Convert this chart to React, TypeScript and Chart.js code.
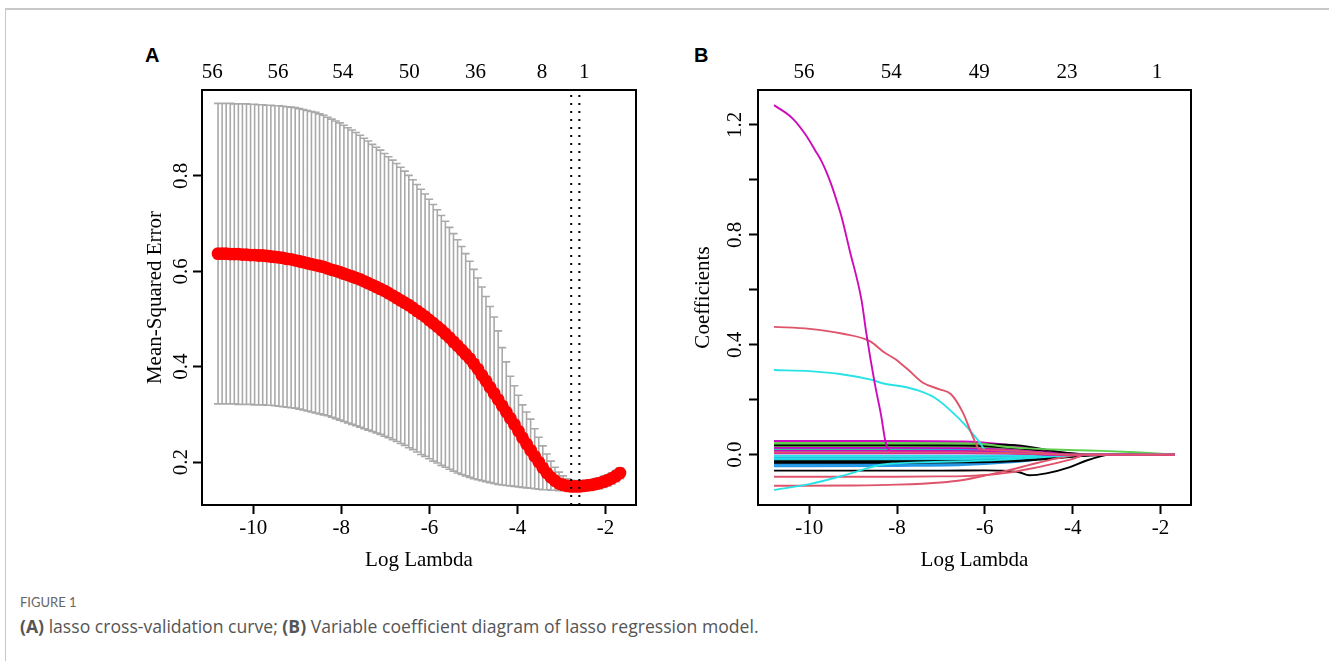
import React, { useEffect, useRef } from "react";
import { Chart, registerables } from "chart.js";

Chart.register(...registerables);

const SERIF = "'Liberation Serif', 'Times New Roman', Times, serif";
const FS = 21;

// ---------------- Panel A: lasso cross-validation curve ----------------
const logLambda = [
  -10.800, -10.708, -10.616, -10.523, -10.431, -10.339, -10.247, -10.155, -10.062, -9.970,
  -9.878, -9.786, -9.694, -9.601, -9.509, -9.417, -9.325, -9.233, -9.140, -9.048,
  -8.956, -8.864, -8.772, -8.679, -8.587, -8.495, -8.403, -8.311, -8.218, -8.126,
  -8.034, -7.942, -7.850, -7.757, -7.665, -7.573, -7.481, -7.389, -7.296, -7.204,
  -7.112, -7.020, -6.928, -6.835, -6.743, -6.651, -6.559, -6.467, -6.374, -6.282,
  -6.190, -6.098, -6.006, -5.913, -5.821, -5.729, -5.637, -5.545, -5.452, -5.360,
  -5.268, -5.176, -5.084, -4.991, -4.899, -4.807, -4.715, -4.623, -4.530, -4.438,
  -4.346, -4.254, -4.162, -4.069, -3.977, -3.885, -3.793, -3.701, -3.608, -3.516,
  -3.424, -3.332, -3.240, -3.147, -3.055, -2.963, -2.871, -2.779, -2.686, -2.594,
  -2.502, -2.410, -2.318, -2.225, -2.133, -2.041, -1.949, -1.857, -1.764, -1.672,
];
const cvm = [
  0.637, 0.637, 0.637, 0.636, 0.636, 0.636, 0.635, 0.635, 0.634, 0.634,
  0.633, 0.633, 0.632, 0.631, 0.630, 0.629, 0.628, 0.626, 0.625, 0.623,
  0.621, 0.619, 0.617, 0.615, 0.613, 0.611, 0.609, 0.606, 0.603, 0.601,
  0.598, 0.595, 0.592, 0.589, 0.586, 0.583, 0.579, 0.575, 0.571, 0.567,
  0.563, 0.559, 0.554, 0.549, 0.544, 0.539, 0.534, 0.529, 0.523, 0.517,
  0.511, 0.505, 0.498, 0.491, 0.484, 0.477, 0.469, 0.461, 0.452, 0.444,
  0.435, 0.426, 0.417, 0.406, 0.395, 0.382, 0.370, 0.357, 0.344, 0.331,
  0.318, 0.305, 0.292, 0.279, 0.265, 0.251, 0.238, 0.225, 0.212, 0.200,
  0.188, 0.177, 0.168, 0.161, 0.155, 0.152, 0.150, 0.149, 0.149, 0.149,
  0.150, 0.151, 0.152, 0.154, 0.156, 0.159, 0.162, 0.166, 0.171, 0.177,
];
const cvup = [
  0.952, 0.952, 0.952, 0.952, 0.951, 0.951, 0.951, 0.951, 0.950, 0.950,
  0.949, 0.949, 0.948, 0.948, 0.947, 0.947, 0.946, 0.945, 0.944, 0.943,
  0.941, 0.939, 0.937, 0.935, 0.933, 0.930, 0.927, 0.923, 0.919, 0.915,
  0.911, 0.906, 0.901, 0.896, 0.891, 0.885, 0.879, 0.873, 0.866, 0.860,
  0.854, 0.847, 0.840, 0.833, 0.826, 0.818, 0.810, 0.801, 0.792, 0.782,
  0.772, 0.762, 0.751, 0.740, 0.729, 0.717, 0.705, 0.692, 0.679, 0.666,
  0.652, 0.637, 0.621, 0.604, 0.586, 0.567, 0.547, 0.526, 0.504, 0.475,
  0.440, 0.410, 0.380, 0.360, 0.340, 0.320, 0.305, 0.290, 0.270, 0.252,
  0.234, 0.217, 0.202, 0.189, 0.179, 0.171, 0.165, 0.162, 0.161, 0.161,
  0.161, 0.162, 0.163, 0.165, 0.167, 0.170, 0.173, 0.177, 0.182, 0.188,
];
const cvlo = [
  0.322, 0.322, 0.322, 0.322, 0.322, 0.321, 0.321, 0.321, 0.321, 0.320,
  0.320, 0.320, 0.319, 0.319, 0.318, 0.317, 0.316, 0.315, 0.314, 0.313,
  0.311, 0.309, 0.307, 0.305, 0.303, 0.301, 0.299, 0.297, 0.294, 0.291,
  0.288, 0.285, 0.282, 0.279, 0.276, 0.273, 0.270, 0.267, 0.264, 0.261,
  0.258, 0.254, 0.251, 0.247, 0.243, 0.239, 0.235, 0.230, 0.226, 0.221,
  0.216, 0.212, 0.207, 0.202, 0.198, 0.193, 0.189, 0.185, 0.181, 0.177,
  0.174, 0.171, 0.168, 0.165, 0.163, 0.161, 0.159, 0.157, 0.155, 0.153,
  0.152, 0.151, 0.150, 0.149, 0.148, 0.147, 0.146, 0.145, 0.144, 0.143,
  0.142, 0.142, 0.141, 0.141, 0.140, 0.140, 0.140, 0.140, 0.140, 0.140,
  0.141, 0.141, 0.142, 0.143, 0.144, 0.147, 0.150, 0.154, 0.159, 0.165,
];
const lambdaMinLog = -2.779;
const lambda1seLog = -2.594;
const topPosA = [-10.93, -9.44, -7.97, -6.46, -4.95, -3.44, -2.48];
const topLabelsA = ["56", "56", "54", "50", "36", "8", "1"];
const xTicks = [-10, -8, -6, -4, -2];
const yTicksA = [0.2, 0.4, 0.6, 0.8];
const yLabelsA = ["0.2", "0.4", "0.6", "0.8"];
const xRange = [-11.165, -1.307];
const yRangeA = [0.11, 0.98];
const capHalfWidth = 0.0913;

// ---------------- Panel B: coefficient paths ----------------
const topPosB = [-10.12, -8.13, -6.13, -4.13, -2.08];
const topLabelsB = ["56", "54", "49", "23", "1"];
const yTicksB = [0, 0.2, 0.4, 0.6, 0.8, 1.0, 1.2];
const yLabelTicksB = [0, 0.4, 0.8, 1.2];
const yLabelsB = ["0.0", "0.4", "0.8", "1.2"];
const yRangeB = [-0.183, 1.327];

const BLACK = "#000000";
const RED = "#DF536B";
const GREEN = "#61D04F";
const BLUE = "#2297E6";
const CYAN = "#28E2E5";
const MAGENTA = "#CD0BBC";

const bundleKnots = [-10.8, -8.0, -6.5, -5.5, -4.8, -4.2, -3.6, -3.0, -2.3, -1.672];
const bundleColors = [
  GREEN, GREEN, GREEN, BLACK, BLACK, BLUE, BLUE, BLUE, BLUE, BLUE, BLUE,
  CYAN, CYAN, CYAN, CYAN, BLACK, BLACK, MAGENTA, MAGENTA, MAGENTA, MAGENTA, RED,
];
const bundleValues = [
  [0.046, 0.045, 0.043, 0.033, 0.019, 0.006, 0, 0, 0, 0],
  [0.030, 0.030, 0.029, 0.022, 0.012, 0.004, 0, 0, 0, 0],
  [0.018, 0.018, 0.017, 0.013, 0.007, 0.002, 0, 0, 0, 0],
  [0.034, 0.034, 0.033, 0.026, 0.016, 0.005, 0, 0, 0, 0],
  [0.010, 0.010, 0.010, 0.008, 0.005, 0.002, 0, 0, 0, 0],
  [0.022, 0.022, 0.021, 0.015, 0.008, 0.002, 0, 0, 0, 0],
  [-0.010, -0.010, -0.009, -0.007, -0.004, -0.001, 0, 0, 0, 0],
  [-0.018, -0.018, -0.017, -0.013, -0.008, -0.003, 0, 0, 0, 0],
  [-0.030, -0.030, -0.028, -0.022, -0.014, -0.005, 0, 0, 0, 0],
  [-0.037, -0.037, -0.034, -0.026, -0.016, -0.006, 0, 0, 0, 0],
  [-0.042, -0.041, -0.038, -0.029, -0.018, -0.007, 0, 0, 0, 0],
  [0.011, 0.011, 0.010, 0.007, 0.003, 0, 0, 0, 0, 0],
  [-0.004, -0.004, -0.004, -0.003, -0.001, 0, 0, 0, 0, 0],
  [-0.014, -0.014, -0.013, -0.010, -0.006, -0.002, 0, 0, 0, 0],
  [-0.021, -0.021, -0.020, -0.016, -0.010, -0.004, 0, 0, 0, 0],
  [-0.024, -0.024, -0.023, -0.020, -0.014, -0.007, -0.001, 0, 0, 0],
  [-0.029, -0.029, -0.028, -0.025, -0.018, -0.010, -0.003, 0, 0, 0],
  [0.050, 0.050, 0.048, 0.036, 0.021, 0.007, 0, 0, 0, 0],
  [0.025, 0.025, 0.024, 0.018, 0.010, 0.003, 0, 0, 0, 0],
  [0.014, 0.014, 0.013, 0.010, 0.006, 0.002, 0, 0, 0, 0],
  [0.005, 0.005, 0.005, 0.004, 0.002, 0, 0, 0, 0, 0],
  [0.008, 0.008, 0.008, 0.006, 0.003, 0.001, 0, 0, 0, 0],
];

const blackUpX = [-10.8, -7.0, -6.0, -5.29, -4.9, -4.38, -4.0, -3.78, -3.6, -1.672];
const blackUpY = [0.038, 0.038, 0.037, 0.035, 0.026, 0.012, 0.005, 0.002, 0, 0];
const blackLowX = [-10.8, -7.0, -6.0, -5.6, -5.22, -4.99, -4.6, -4.08, -3.7, -3.33, -3.2, -1.672];
const blackLowY = [-0.058, -0.058, -0.057, -0.058, -0.064, -0.075, -0.068, -0.046, -0.022, -0.004, 0, 0];
const greenTopX = [-10.8, -7.0, -6.1, -5.6, -5.0, -4.46, -3.9, -3.33, -2.56, -2.0, -1.672];
const greenTopY = [0.041, 0.041, 0.040, 0.030, 0.023, 0.019, 0.016, 0.014, 0.009, 0.004, 0];
const redLow1X = [-10.8, -8.0, -7.0, -6.5, -6.0, -5.5, -5.0, -4.5, -4.0, -3.7, -1.672];
const redLow1Y = [-0.080, -0.080, -0.079, -0.078, -0.074, -0.066, -0.052, -0.035, -0.015, 0, 0];
const redLow2X = [-10.8, -9.0, -8.0, -7.0, -6.5, -6.0, -5.5, -5.0, -4.5, -4.0, -3.8, -1.672];
const redLow2Y = [-0.113, -0.112, -0.109, -0.101, -0.092, -0.076, -0.058, -0.038, -0.018, -0.003, 0, 0];
const cyanLowX = [-10.8, -9.99, -9.23, -8.85, -8.47, -8.10, -7.5, -6.5, -5.5, -4.8, -4.2, -3.8, -1.672];
const cyanLowY = [-0.128, -0.107, -0.076, -0.058, -0.040, -0.032, -0.028, -0.024, -0.018, -0.010, -0.004, 0, 0];
const cyanBigX = [-10.8, -9.99, -9.23, -8.62, -8.28, -7.87, -7.49, -7.15, -6.81, -6.43, -6.12, -5.97, -5.5, -4.8, -4.2, -1.672];
const cyanBigY = [0.308, 0.304, 0.292, 0.274, 0.258, 0.248, 0.232, 0.208, 0.165, 0.105, 0.045, 0.014, 0.010, 0.004, 0, 0];
const redBigX = [-10.8, -9.99, -9.23, -8.62, -8.28, -8.05, -7.93, -7.75, -7.41, -7.03, -6.77, -6.50, -6.28, -6.12, -5.5, -4.8, -4.2, -1.672];
const redBigY = [0.465, 0.458, 0.440, 0.413, 0.371, 0.349, 0.334, 0.310, 0.262, 0.238, 0.220, 0.153, 0.068, 0.020, 0.015, 0.008, 0, 0];
const magentaBigX = [-10.8, -10.38, -10.08, -9.87, -9.70, -9.51, -9.36, -9.25, -9.08, -8.81, -8.70, -8.51, -8.36, -8.26, -8.15, -7.0, -6.0, -5.2, -4.5, -1.672];
const magentaBigY = [1.272, 1.224, 1.164, 1.109, 1.062, 0.989, 0.917, 0.858, 0.745, 0.564, 0.443, 0.262, 0.141, 0.045, 0.014, 0.013, 0.012, 0.006, 0, 0];

// ---------------- helpers ----------------
const pts = (xs: number[], ys: (number | null)[]) => xs.map((x, i) => ({ x, y: ys[i] }));

const framePlugin = {
  id: "frame",
  afterDraw(chart: any) {
    const { ctx, chartArea } = chart;
    ctx.save();
    ctx.strokeStyle = "#000";
    ctx.lineWidth = 2;
    ctx.strokeRect(chartArea.left, chartArea.top, chartArea.right - chartArea.left, chartArea.bottom - chartArea.top);
    ctx.restore();
  },
};

function yTextPlugin(ticks: number[], labels: string[], labelOffset: number, title: string, titleOffset: number) {
  return {
    id: "yText",
    afterDraw(chart: any) {
      const { ctx, chartArea, scales } = chart;
      ctx.save();
      ctx.fillStyle = "#000";
      ctx.font = `${FS}px ${SERIF}`;
      ctx.textAlign = "center";
      ctx.textBaseline = "middle";
      ticks.forEach((v, i) => {
        const py = scales.y.getPixelForValue(v);
        ctx.save();
        ctx.translate(chartArea.left - labelOffset, py);
        ctx.rotate(-Math.PI / 2);
        ctx.fillText(labels[i], 0, 0);
        ctx.restore();
      });
      ctx.translate(chartArea.left - titleOffset, (chartArea.top + chartArea.bottom) / 2);
      ctx.rotate(-Math.PI / 2);
      ctx.fillText(title, 0, 0);
      ctx.restore();
    },
  };
}

function baseOptions(yRange: number[], yTicks: number[], topPos: number[], topLabels: string[], yWidth: number, rightPad: number) {
  const font = { family: SERIF, size: FS };
  const tickGrid = { display: true, drawOnChartArea: false, drawTicks: true, tickLength: 9, tickWidth: 2, tickColor: "#000" };
  return {
    responsive: false,
    animation: false,
    devicePixelRatio: 1,
    events: [],
    layout: { padding: { left: 0, top: 0, right: rightPad, bottom: 0 } },
    plugins: { legend: { display: false }, tooltip: { enabled: false } },
    scales: {
      x: {
        type: "linear",
        position: "bottom",
        min: xRange[0],
        max: xRange[1],
        afterBuildTicks: (s: any) => { s.ticks = xTicks.map((v) => ({ value: v })); },
        afterFit: (s: any) => { s.height = 95; },
        grid: tickGrid,
        border: { display: false },
        ticks: { font, color: "#000", padding: 2, autoSkip: false, maxRotation: 0, minRotation: 0, callback: (v: any) => String(v) },
        title: { display: true, text: "Log Lambda", font, color: "#000", padding: { top: 0, bottom: 27 } },
      },
      x2: {
        type: "linear",
        position: "top",
        min: xRange[0],
        max: xRange[1],
        afterBuildTicks: (s: any) => { s.ticks = topPos.map((v) => ({ value: v })); },
        afterFit: (s: any) => { s.height = 50; },
        grid: { display: false },
        border: { display: false },
        ticks: { font, color: "#000", padding: -3, autoSkip: false, maxRotation: 0, minRotation: 0, callback: (_v: any, i: number) => topLabels[i] },
      },
      y: {
        type: "linear",
        position: "left",
        min: yRange[0],
        max: yRange[1],
        afterBuildTicks: (s: any) => { s.ticks = yTicks.map((v) => ({ value: v })); },
        afterFit: (s: any) => { s.width = yWidth; },
        grid: tickGrid,
        border: { display: false },
        ticks: { display: false },
      },
    },
  };
}

function configA() {
  const whiskers: any[] = [];
  const capsUp: any[] = [];
  const capsLo: any[] = [];
  logLambda.forEach((x, i) => {
    whiskers.push({ x, y: cvlo[i] }, { x, y: cvup[i] }, { x, y: null });
    capsUp.push({ x: x - capHalfWidth, y: cvup[i] }, { x: x + capHalfWidth, y: cvup[i] }, { x, y: null });
    capsLo.push({ x: x - capHalfWidth, y: cvlo[i] }, { x: x + capHalfWidth, y: cvlo[i] }, { x, y: null });
  });
  const grey = (data: any[], order: number) => ({
    data, order, showLine: true, spanGaps: false, pointRadius: 0, borderWidth: 1.6, borderColor: "#A9A9A9", tension: 0,
  });
  const vline = (x: number, order: number) => ({
    data: [{ x, y: yRangeA[0] }, { x, y: yRangeA[1] }], order, showLine: true, pointRadius: 0,
    borderColor: "#000", borderWidth: 2, borderDash: [2, 6],
  });
  return {
    type: "line",
    data: {
      datasets: [
        vline(lambdaMinLog, 0),
        vline(lambda1seLog, 0),
        {
          data: pts(logLambda, cvm), order: 1, showLine: false, pointRadius: 6.4,
          pointBackgroundColor: "#FF0000", pointBorderWidth: 0, borderColor: "#FF0000",
        },
        grey(capsLo, 2),
        grey(capsUp, 3),
        grey(whiskers, 4),
      ],
    },
    options: baseOptions(yRangeA, yTicksA, topPosA, topLabelsA, 102, 24),
    plugins: [framePlugin, yTextPlugin(yTicksA, yLabelsA, 21, "Mean-Squared Error", 47)],
  };
}

function configB() {
  const paths: { x: number[]; y: number[]; c: string }[] = [];
  bundleValues.slice(0, 21).forEach((vals, i) => paths.push({ x: bundleKnots, y: vals, c: bundleColors[i] }));
  paths.push({ x: blackUpX, y: blackUpY, c: BLACK });
  paths.push({ x: blackLowX, y: blackLowY, c: BLACK });
  paths.push({ x: greenTopX, y: greenTopY, c: GREEN });
  paths.push({ x: redLow1X, y: redLow1Y, c: RED });
  paths.push({ x: redLow2X, y: redLow2Y, c: RED });
  paths.push({ x: cyanLowX, y: cyanLowY, c: CYAN });
  paths.push({ x: cyanBigX, y: cyanBigY, c: CYAN });
  paths.push({ x: redBigX, y: redBigY, c: RED });
  paths.push({ x: magentaBigX, y: magentaBigY, c: MAGENTA });
  paths.push({ x: bundleKnots, y: bundleValues[21], c: bundleColors[21] });
  const n = paths.length;
  return {
    type: "line",
    data: {
      datasets: paths.map((p, i) => ({
        data: pts(p.x, p.y), order: n - i, showLine: true, pointRadius: 0,
        borderColor: p.c, borderWidth: 1.9, cubicInterpolationMode: "monotone",
      })),
    },
    options: baseOptions(yRangeB, yTicksB, topPosB, topLabelsB, 98, 29),
    plugins: [framePlugin, yTextPlugin(yLabelTicksB, yLabelsB, 23, "Coefficients", 55)],
  };
}

function Panel({ left, make }: { left: number; make: () => any }) {
  const ref = useRef<HTMLCanvasElement | null>(null);
  useEffect(() => {
    if (!ref.current) return;
    const chart = new Chart(ref.current, make());
    return () => chart.destroy();
  }, []);
  return (
    <canvas
      ref={ref}
      width={560}
      height={560}
      style={{ position: "absolute", left, top: 40, width: 560, height: 560 }}
    />
  );
}

export default function App() {
  const letter: React.CSSProperties = {
    position: "absolute", top: 45, fontFamily: "'Liberation Sans', Arial, sans-serif",
    fontWeight: 700, fontSize: 20, lineHeight: 1, color: "#000",
  };
  return (
    <div style={{ position: "absolute", left: 0, top: 0, width: 1329, height: 661, background: "#fff", overflow: "hidden" }}>
      <div style={{ position: "absolute", left: 5, top: 8, width: 1340, height: 700, borderTop: "2px solid #c8c8c8", borderLeft: "1px solid #c8c8c8" }} />
      <div style={{ ...letter, left: 145 }}>A</div>
      <div style={{ ...letter, left: 694 }}>B</div>
      <Panel left={100} make={configA} />
      <Panel left={660} make={configB} />
      <div style={{ position: "absolute", left: 20, top: 595, fontFamily: "Lato, 'Open Sans', sans-serif", fontSize: 13, lineHeight: 1.2, color: "#666" }}>
        FIGURE 1
      </div>
      <div style={{ position: "absolute", left: 20, top: 616, fontFamily: "'Open Sans', Lato, sans-serif", fontSize: 17.6, lineHeight: 1.2, color: "#555", whiteSpace: "nowrap" }}>
        <b>(A)</b> lasso cross-validation curve; <b>(B)</b> Variable coefficient diagram of lasso regression model.
      </div>
    </div>
  );
}
